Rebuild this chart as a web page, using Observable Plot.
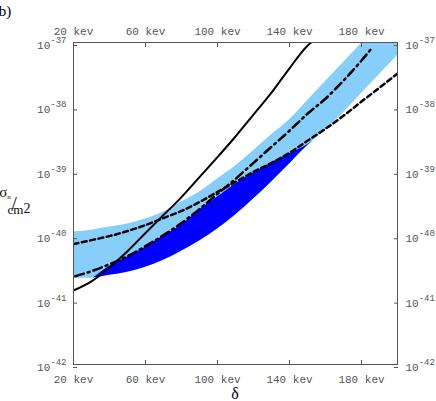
<!DOCTYPE html>
<html><head><meta charset="utf-8">
<script src="https://cdn.jsdelivr.net/npm/d3@7"></script>
<script src="https://cdn.jsdelivr.net/npm/@observablehq/plot@0.6"></script>
<style>
body{margin:0;background:#fff;}
#wrap{position:relative;width:436px;height:401px;}
</style></head><body><div id="wrap"></div>
<script>
// tick values
const xTicks = [20, 60, 100, 140, 180];
const yTicks = [1e-42, 1e-41, 1e-40, 1e-39, 1e-38, 1e-37];

// light-blue band (keV, sigma in cm^2)
const bandKeV  = [20, 30, 40, 50, 60, 70, 80, 90, 100, 110, 120, 130, 140, 150, 160, 170, 180, 190, 200];
const bandLow  = [2.19e-41, 2.19e-41, 2.43e-41, 2.71e-41, 3.24e-41, 4.17e-41, 5.75e-41, 8.24e-41, 1.27e-40, 2.09e-40, 3.72e-40, 6.84e-40, 1.30e-39, 2.49e-39, 4.42e-39, 8.13e-39, 1.61e-38, 3.18e-38, 6.28e-38];
const bandHigh = [1.14e-40, 1.22e-40, 1.36e-40, 1.52e-40, 1.82e-40, 2.33e-40, 3.33e-40, 4.78e-40, 7.62e-40, 1.21e-39, 2.08e-39, 3.69e-39, 6.32e-39, 1.25e-38, 2.47e-38, 4.88e-38, 9.64e-38, 1.9e-37, 3.8e-37];

// dark-blue band
const darkKeV  = [31, 40, 50, 60, 70, 80, 90, 100, 110, 120, 130, 140, 150, 153.3];
const darkLow  = [2.2e-41, 2.43e-41, 2.71e-41, 3.24e-41, 4.17e-41, 5.75e-41, 8.24e-41, 1.27e-40, 2.09e-40, 3.72e-40, 6.84e-40, 1.30e-39, 2.49e-39, 2.98e-39];
const darkHigh = [2.2e-41, 3.36e-41, 4.65e-41, 6.64e-41, 9.86e-41, 1.46e-40, 2.51e-40, 3.99e-40, 6.37e-40, 9.44e-40, 1.35e-39, 1.87e-39, 2.58e-39, 2.98e-39];

// solid curve
const solidKeV   = [20, 30, 40, 50, 60, 70, 80, 90, 100, 110, 120, 130, 140, 150, 152];
const solidSigma = [1.41e-41, 1.95e-41, 3.24e-41, 5.75e-41, 1.10e-40, 2.09e-40, 3.98e-40, 8.13e-40, 1.66e-39, 3.47e-39, 7.59e-39, 1.66e-38, 3.98e-38, 8.91e-38, 1.0e-37];

// dashed curve
const dashedKeV   = [20, 30, 40, 50, 60, 70, 80, 90, 100, 110, 120, 130, 140, 150, 160, 170, 180, 190, 200];
const dashedSigma = [7.40e-41, 8.53e-41, 9.86e-41, 1.18e-40, 1.46e-40, 1.88e-40, 2.42e-40, 3.33e-40, 4.78e-40, 6.84e-40, 9.79e-40, 1.35e-39, 1.94e-39, 2.98e-39, 4.57e-39, 7.29e-39, 1.21e-38, 1.99e-38, 3.29e-38];

// dash-dot curve
const dashdotKeV   = [21, 30, 40, 50, 60, 70, 80, 90, 100, 110, 120, 130, 140, 150, 160, 170, 180, 186];
const dashdotSigma = [2.35e-41, 2.81e-41, 3.61e-41, 4.81e-41, 6.89e-41, 1.02e-40, 1.57e-40, 2.59e-40, 4.45e-40, 7.62e-40, 1.35e-39, 2.40e-39, 4.26e-39, 7.83e-39, 1.34e-38, 2.56e-38, 5.25e-38, 8.36e-38];

const band = bandKeV.map((k, i) => ({k, lo: bandLow[i], hi: bandHigh[i]}));
const dark = darkKeV.map((k, i) => ({k, lo: darkLow[i], hi: darkHigh[i]}));
const solid = solidKeV.map((k, i) => ({k, s: solidSigma[i]}));
const dashed = dashedKeV.map((k, i) => ({k, s: dashedSigma[i]}));
const dashdot = dashdotKeV.map((k, i) => ({k, s: dashdotSigma[i]}));

const mono = "Liberation Mono, DejaVu Sans Mono, monospace";
const serif = "Liberation Serif, DejaVu Serif, serif";
const grey = "#555";

const plot = Plot.plot({
  width: 436, height: 401,
  marginLeft: 73, marginRight: 39, marginTop: 42, marginBottom: 37,
  x: {domain: [20, 200], label: null},
  y: {type: "log", domain: [1e-42, 1e-37], label: null},
  marks: [
    Plot.areaY(band, {x: "k", y1: "lo", y2: "hi", fill: "#87cefa", curve: "monotone-x", clip: true}),
    Plot.areaY(dark, {x: "k", y1: "lo", y2: "hi", fill: "#0000ff", curve: "monotone-x", clip: true}),
    Plot.line(solid, {x: "k", y: "s", stroke: "black", strokeWidth: 2, curve: "monotone-x", clip: true}),
    Plot.line(dashed, {x: "k", y: "s", stroke: "black", strokeWidth: 2.5, strokeDasharray: "5,3.5", curve: "monotone-x", clip: true}),
    Plot.line(dashdot, {x: "k", y: "s", stroke: "black", strokeWidth: 2.5, strokeDasharray: "9,4,2,4", curve: "monotone-x", clip: true}),
    Plot.frame({stroke: grey}),
    Plot.axisX(xTicks, {anchor: "bottom", tickSize: -4, tickPadding: 15, tickFormat: d => `${d} kev`, fontFamily: mono, fontSize: 11, color: grey, label: null}),
    Plot.axisX(xTicks, {anchor: "top", tickSize: -4, tickPadding: 12, tickFormat: d => `${d} kev`, fontFamily: mono, fontSize: 11, color: grey, label: null}),
    Plot.axisY(yTicks, {anchor: "left", tickSize: -4, tickPadding: 11, dy: 3, tickFormat: d => "10^" + Math.round(Math.log10(d)), fontFamily: mono, fontSize: 11, color: grey, label: null}),
    Plot.axisY(yTicks, {anchor: "right", tickSize: -4, tickPadding: 12, dy: 3, tickFormat: d => "10^" + Math.round(Math.log10(d)), fontFamily: mono, fontSize: 11, color: grey, label: null})
  ]
});

// superscript exponents on the y tick labels
plot.querySelectorAll('[aria-label="y-axis tick label"] text').forEach(t => {
  const parts = t.textContent.split("^");
  if (parts.length !== 2) return;
  t.textContent = parts[0];
  const ts = document.createElementNS("http://www.w3.org/2000/svg", "tspan");
  ts.setAttribute("dy", "-6");
  ts.setAttribute("font-size", "9");
  ts.textContent = parts[1];
  t.appendChild(ts);
});

const svg = d3.select(plot);
svg.append("text").attr("x", 5).attr("y", 16).attr("font-family", serif).attr("font-size", 15).text("b)");
svg.append("text").attr("x", 235).attr("y", 399).attr("text-anchor", "middle").attr("font-family", serif).attr("font-size", 16).text("δ");
const yl = svg.append("g").attr("font-family", serif).attr("fill", "#111");
const t1 = yl.append("text").attr("x", 5).attr("y", 197).attr("font-size", 15);
t1.append("tspan").text("σ");
t1.append("tspan").attr("font-size", 7).attr("dy", 2).text("n");
yl.append("text").attr("x", 14).attr("y", 211).attr("font-size", 20).attr("font-weight", 300).text("/");
const t2 = yl.append("text").attr("x", 19).attr("y", 214).attr("font-size", 13);
t2.append("tspan").text("cm");
t2.append("tspan").attr("font-size", 14).attr("dy", -1).text("2");

document.getElementById("wrap").appendChild(plot);
</script></body></html>
